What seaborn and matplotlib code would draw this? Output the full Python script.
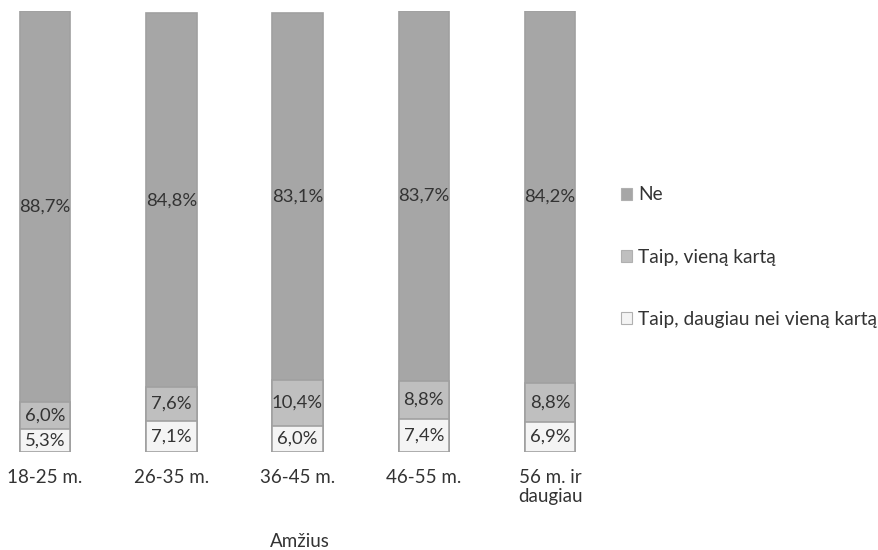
import matplotlib
matplotlib.use("Agg")
import matplotlib.pyplot as plt
import seaborn as sns
import pandas as pd
import numpy as np
from matplotlib.patches import Patch

categories = ["18-25 m.", "26-35 m.", "36-45 m.", "46-55 m.", "56 m. ir\ndaugiau"]
ne = [88.7, 84.8, 83.1, 83.7, 84.2]
taip_viena = [6.0, 7.6, 10.4, 8.8, 8.8]
taip_daugiau = [5.3, 7.1, 6.0, 7.4, 6.9]
series_names = ["Ne", "Taip, vieną kartą", "Taip, daugiau nei vieną kartą"]
x_title = "Amžius"

colors = {"Ne": "#a6a6a6", "Taip, vieną kartą": "#bfbfbf", "Taip, daugiau nei vieną kartą": "#f4f4f4"}
edge = "#a0a0a0"

sns.set_theme(style="white")
plt.rcParams["font.family"] = ["Lato", "DejaVu Sans"]

fig = plt.figure(figsize=(8.79, 5.5), dpi=100)
W, H = 879, 550
ax = fig.add_axes([0 / W, (H - 452) / H, 600 / W, 441 / H])

bottoms = np.array(taip_daugiau)
mids = np.array(taip_viena)
c1 = bottoms
c2 = bottoms + mids
c3 = c2 + np.array(ne)

df = pd.DataFrame({"cat": categories, "c1": c1, "c2": c2, "c3": c3})
for col, name in [("c3", "Ne"), ("c2", "Taip, vieną kartą"), ("c1", "Taip, daugiau nei vieną kartą")]:
    sns.barplot(data=df, x="cat", y=col, color=colors[name], saturation=1,
                width=0.40, edgecolor=edge, linewidth=1.2, ax=ax, order=categories)

ax.set_xlim(-45 / 126.3, (600 - 45) / 126.3)
ax.set_ylim(0, 100)
for s in ax.spines.values():
    s.set_visible(False)
ax.set_yticks([])
ax.set_ylabel("")
ax.set_xlabel(x_title, fontsize=13.5, color="#333333", labelpad=20)
ax.tick_params(axis="x", length=0, pad=12, labelsize=13.5, labelcolor="#333333")
for lab in ax.get_xticklabels():
    lab.set_verticalalignment("top")

for i in range(len(categories)):
    segs = [(0, c1[i], taip_daugiau[i]), (c1[i], c2[i], taip_viena[i]), (c2[i], c3[i], ne[i])]
    for lo, hi, v in segs:
        ax.text(i, (lo + hi) / 2, f"{v:.1f}%".replace(".", ","), ha="center", va="center",
                fontsize=13.3, color="#333333")

handles = [Patch(facecolor=colors[n], edgecolor="#b0b0b0", linewidth=0.8) for n in series_names]
fig.legend(handles, series_names, loc="center left", bbox_to_anchor=(621 / W, 1 - 257 / H),
           frameon=False, fontsize=13.8, handlelength=0.6, handleheight=0.6,
           handletextpad=0.3, labelspacing=2.35, labelcolor="#333333", borderaxespad=0,
           borderpad=0)

fig.savefig("out.png", dpi=100)
